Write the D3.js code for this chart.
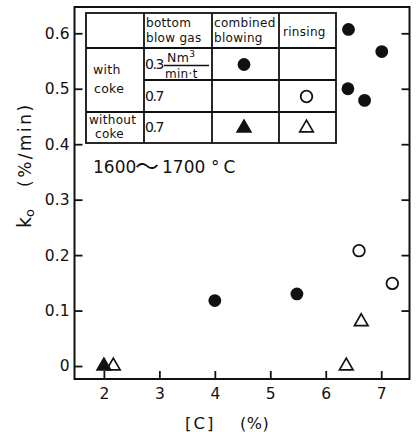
<!DOCTYPE html>
<html>
<head>
<meta charset="utf-8">
<script src="https://cdn.jsdelivr.net/npm/d3@7"></script>
<style>
  body { margin: 0; background: #fff; }
  svg { display: block; font-family: "DejaVu Sans", sans-serif; }
  .axis path { display: none; }
  .axis line { stroke: #111; stroke-width: 1.8; }
  .axis text { font-size: 15.5px; fill: #111; font-family: "DejaVu Sans", sans-serif; }
</style>
</head>
<body>
<script>
// data: [C] (%) vs k0 (%/min)
var cokeCombinedC = [6.41, 7.01, 6.40, 6.70, 4.00, 5.48];
var cokeCombinedK = [0.607, 0.567, 0.500, 0.479, 0.118, 0.130];
var cokeRinsingC = [6.60, 7.20];
var cokeRinsingK = [0.208, 0.149];
var noCokeCombinedC = [2.00];
var noCokeCombinedK = [0.000];
var noCokeRinsingC = [2.17, 6.37, 6.64];
var noCokeRinsingK = [0.000, 0.000, 0.080];

var xTicks = [2, 3, 4, 5, 6, 7];
var yTicks = [0, 0.1, 0.2, 0.3, 0.4, 0.5, 0.6];

var headerLabels = [["bottom", "blow gas"], ["combined", "blowing"], ["rinsing"]];
var rowLabels = [["with", "coke"], ["without", "coke"]];
var gasLabels = ["0.3", "0.7", "0.7"];
var tempParts = ["1600", "\uFF5E", "1700", "\u00B0C"];

var width = 416, height = 432;
var margin = { top: 7, right: 6.5, bottom: 53, left: 74.5 };

var svg = d3.select("body").append("svg")
    .attr("width", width).attr("height", height);

var x = d3.scaleLinear()
    .domain([1.47, 7.51])
    .range([margin.left, width - margin.right]);

var y = d3.scaleLinear()
    .domain([-0.0234, 0.6474])
    .range([height - margin.bottom, margin.top]);

function fmt(d) { return d === 0 ? "0" : d3.format(".1f")(d); }

// axes, ticks point inwards
svg.append("g").attr("class", "axis")
    .attr("transform", "translate(" + x.range()[0] + ",0)")
    .call(d3.axisLeft(y).tickValues(yTicks).tickSize(-8).tickPadding(5).tickFormat(fmt));

svg.append("g").attr("class", "axis")
    .attr("transform", "translate(" + x.range()[1] + ",0)")
    .call(d3.axisRight(y).tickValues(yTicks.slice(1)).tickSize(-8).tickFormat(""));

svg.append("g").attr("class", "axis")
    .attr("transform", "translate(0," + y.range()[0] + ")")
    .call(d3.axisBottom(x).tickValues(xTicks).tickSize(-8).tickPadding(9).tickFormat(d3.format("d")));

// frame
svg.append("rect")
    .attr("x", x.range()[0]).attr("y", y.range()[1])
    .attr("width", x.range()[1] - x.range()[0])
    .attr("height", y.range()[0] - y.range()[1])
    .attr("fill", "none").attr("stroke", "#111").attr("stroke-width", 2);

// axis titles
svg.append("text")
    .attr("x", 185).attr("y", 429)
    .attr("font-size", 16.5).attr("letter-spacing", 2).attr("fill", "#111")
    .text("[C]");
svg.append("text")
    .attr("x", 240).attr("y", 429)
    .attr("font-size", 16).attr("letter-spacing", 0.5).attr("fill", "#111")
    .text("(%)");

var yTitle = svg.append("g").attr("transform", "translate(31,228) rotate(-90)");
var kt = yTitle.append("text").attr("font-size", 19).attr("fill", "#111");
kt.append("tspan").text("k");
kt.append("tspan").attr("font-size", 13).attr("dy", 3).text("o");
yTitle.append("text").attr("x", 41).attr("font-size", 17).attr("letter-spacing", 2.5)
    .attr("fill", "#111").text("(%/min)");

// markers
var tri = d3.symbol().type(d3.symbolTriangle).size(80);

function dots(cs, ks, filled) {
    svg.append("g").selectAll("circle")
        .data(cs.map((c, i) => ({ c: c, k: ks[i] })))
        .enter().append("circle")
        .attr("cx", d => x(d.c)).attr("cy", d => y(d.k))
        .attr("r", filled ? 6.4 : 5.8)
        .attr("fill", filled ? "#111" : "#fff")
        .attr("stroke", "#111").attr("stroke-width", filled ? 0 : 1.8);
}
function tris(cs, ks, filled) {
    svg.append("g").selectAll("path")
        .data(cs.map((c, i) => ({ c: c, k: ks[i] })))
        .enter().append("path")
        .attr("d", tri)
        .attr("transform", d => "translate(" + x(d.c) + "," + y(d.k) + ")")
        .attr("fill", filled ? "#111" : "#fff")
        .attr("stroke", "#111").attr("stroke-width", 1.7);
}
dots(cokeCombinedC, cokeCombinedK, true);
dots(cokeRinsingC, cokeRinsingK, false);
tris(noCokeRinsingC, noCokeRinsingK, false);
tris(noCokeCombinedC, noCokeCombinedK, true);

// legend table
var colX = [86, 144, 212, 279, 336];
var rowY = [13, 48, 80, 112, 143];
var tbl = svg.append("g").attr("stroke", "#111").attr("stroke-width", 1.8);
tbl.append("rect").attr("x", colX[0]).attr("y", rowY[0])
    .attr("width", colX[4] - colX[0]).attr("height", rowY[4] - rowY[0])
    .attr("fill", "#fff");
[1, 2, 3].forEach(i => tbl.append("line")
    .attr("x1", colX[i]).attr("x2", colX[i]).attr("y1", rowY[0]).attr("y2", rowY[4]));
tbl.append("line").attr("x1", colX[0]).attr("x2", colX[4]).attr("y1", rowY[1]).attr("y2", rowY[1]);
tbl.append("line").attr("x1", colX[1]).attr("x2", colX[4]).attr("y1", rowY[2]).attr("y2", rowY[2]);
tbl.append("line").attr("x1", colX[0]).attr("x2", colX[4]).attr("y1", rowY[3]).attr("y2", rowY[3]);

var tt = svg.append("g").attr("font-size", 12).attr("letter-spacing", 0.3).attr("fill", "#111");
headerLabels.forEach((lines, i) => {
    var t = tt.append("text").attr("x", colX[i + 1] + 2);
    if (lines.length === 2) {
        t.append("tspan").attr("x", colX[i + 1] + 2).attr("y", 27).text(lines[0]);
        t.append("tspan").attr("x", colX[i + 1] + 2).attr("y", 42).text(lines[1]);
    } else {
        t.attr("x", colX[i + 1] + 4).attr("y", 36).text(lines[0]);
    }
});
tt.append("text").attr("x", 93).attr("y", 74).attr("font-size", 12.5).text(rowLabels[0][0]);
tt.append("text").attr("x", 94).attr("y", 93).attr("font-size", 12.5).text(rowLabels[0][1]);
tt.append("text").attr("x", 89).attr("y", 124).text(rowLabels[1][0]);
tt.append("text").attr("x", 95).attr("y", 138).text(rowLabels[1][1]);
tt.selectAll("text.gas").data(gasLabels).enter().append("text")
    .attr("class", "gas")
    .attr("x", 145).attr("y", (d, i) => [69, 101, 132][i])
    .attr("font-size", 14).attr("letter-spacing", -1.4)
    .text(d => d);
// unit fraction Nm3 / min·t
var nm = tt.append("text").attr("x", 167).attr("y", 62).attr("font-size", 12.5);
nm.append("tspan").text("Nm");
nm.append("tspan").attr("font-size", 9).attr("dy", -5).text("3");
svg.append("line").attr("x1", 164).attr("x2", 209).attr("y1", 65.5).attr("y2", 65.5)
    .attr("stroke", "#111").attr("stroke-width", 1.5);
tt.append("text").attr("x", 165).attr("y", 77.5).attr("font-size", 12).text("min\u00B7t");

// legend symbols
svg.append("circle").attr("cx", 244).attr("cy", 64.5).attr("r", 6.4).attr("fill", "#111");
svg.append("circle").attr("cx", 306.5).attr("cy", 96.5).attr("r", 5.8)
    .attr("fill", "#fff").attr("stroke", "#111").attr("stroke-width", 1.8);
svg.append("path").attr("d", tri).attr("transform", "translate(244,128)")
    .attr("fill", "#111").attr("stroke", "#111").attr("stroke-width", 1.7);
svg.append("path").attr("d", tri).attr("transform", "translate(306.5,128)")
    .attr("fill", "#fff").attr("stroke", "#111").attr("stroke-width", 1.7);

// temperature note
var temp = svg.append("text").attr("y", 173).attr("font-size", 17).attr("fill", "#111");
temp.append("tspan").attr("x", 93).text(tempParts[0]);
temp.append("tspan").attr("x", 135).attr("font-size", 24)
    .attr("font-family", "Noto Sans CJK JP").attr("dy", 1.5).text(tempParts[1]);
temp.append("tspan").attr("x", 162).attr("dy", -1.5).text(tempParts[2]);
temp.append("tspan").attr("x", 211).attr("letter-spacing", 4).text(tempParts[3]);
</script>
</body>
</html>
